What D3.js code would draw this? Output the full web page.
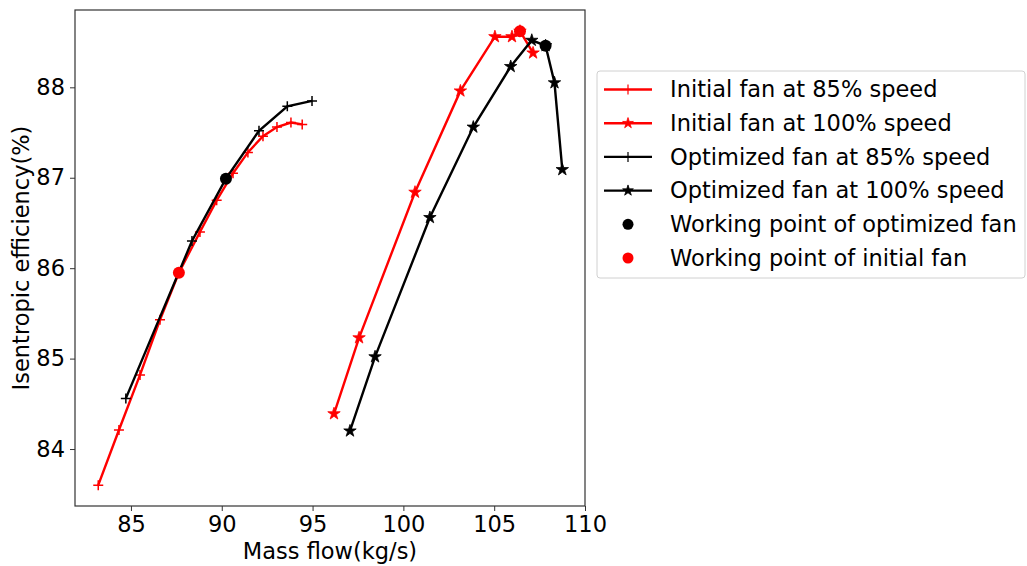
<!DOCTYPE html>
<html>
<head>
<meta charset="utf-8">
<script src="https://cdn.jsdelivr.net/npm/d3@7"></script>
<style>
  body { margin: 0; background: #fff; }
  text { font-family: "DejaVu Sans", sans-serif; fill: #000; }
</style>
</head>
<body>
<svg width="1027" height="566"></svg>
<script>
// values: [mass flow, efficiency]
var initial85 = [[83.20, 83.60], [84.34, 84.21], [85.50, 84.82], [86.60, 85.43], [87.64, 85.95],
                 [88.80, 86.40], [89.72, 86.75], [90.62, 87.05], [91.44, 87.28], [92.27, 87.46],
                 [93.04, 87.56], [93.81, 87.61], [94.43, 87.59]];
var initial100 = [[96.18, 84.39], [97.56, 85.23], [100.64, 86.84], [103.14, 87.96], [105.04, 88.56],
                  [105.98, 88.56], [106.42, 88.62], [107.14, 88.38]];
var optimized85 = [[84.72, 84.56], [88.36, 86.30], [90.23, 86.99], [92.05, 87.52], [93.61, 87.79],
                   [94.97, 87.85]];
var optimized100 = [[97.06, 84.20], [98.44, 85.02], [101.46, 86.56], [103.85, 87.56], [105.91, 88.23],
                    [107.07, 88.52], [107.83, 88.46], [108.32, 88.05], [108.75, 87.09]];
var workOptimized = [[90.23, 86.99], [107.83, 88.46]];
var workInitial = [[87.64, 85.95], [106.42, 88.62]];

var xTicks = [85, 90, 95, 100, 105, 110],
    yTicks = [84, 85, 86, 87, 88];

var series = [
  { name: "Initial fan at 85% speed", data: initial85, color: "red", marker: "plus" },
  { name: "Initial fan at 100% speed", data: initial100, color: "red", marker: "star" },
  { name: "Optimized fan at 85% speed", data: optimized85, color: "black", marker: "plus" },
  { name: "Optimized fan at 100% speed", data: optimized100, color: "black", marker: "star" }
];
var dots = [
  { name: "Working point of optimized fan", data: workOptimized, color: "black" },
  { name: "Working point of initial fan", data: workInitial, color: "red" }
];

var svg = d3.select("svg");
var margin = { left: 75, right: 442, top: 10, bottom: 60 },
    width = 1027 - margin.left - margin.right,
    height = 566 - margin.top - margin.bottom,
    fontSize = "22.5px";

var x = d3.scaleLinear().domain([81.92, 110]).range([margin.left, margin.left + width]);
var y = d3.scaleLinear().domain([83.37, 88.855]).range([margin.top + height, margin.top]);

var line = d3.line().x(function(d) { return x(d[0]); }).y(function(d) { return y(d[1]); });
var star = d3.symbol().type(d3.symbolStar).size(48);
var starLegend = d3.symbol().type(d3.symbolStar).size(36);
var plusPath = "M-5,0H5M0,-5V5";

// axes
svg.append("g")
    .attr("transform", "translate(0," + (margin.top + height) + ")")
    .call(d3.axisBottom(x).tickValues(xTicks).tickFormat(d3.format("d")).tickSize(5).tickPadding(5))
    .call(styleAxis);
svg.append("g")
    .attr("transform", "translate(" + margin.left + ",0)")
    .call(d3.axisLeft(y).tickValues(yTicks).tickFormat(d3.format("d")).tickSize(5).tickPadding(5))
    .call(styleAxis);

function styleAxis(g) {
  g.select(".domain").remove();
  g.selectAll(".tick line").attr("stroke", "#333");
  g.selectAll(".tick text").style("font-size", fontSize).attr("fill", "#000");
}

svg.append("rect")
    .attr("x", margin.left).attr("y", margin.top)
    .attr("width", width).attr("height", height)
    .attr("fill", "none").attr("stroke", "#333").attr("stroke-width", 1.2);

svg.append("text")
    .attr("x", margin.left + width / 2).attr("y", 559)
    .attr("text-anchor", "middle").style("font-size", fontSize)
    .text("Mass flow(kg/s)");
svg.append("text")
    .attr("transform", "translate(29," + (margin.top + height / 2) + ") rotate(-90)")
    .attr("text-anchor", "middle").style("font-size", fontSize)
    .text("Isentropic efficiency(%)");

// curves
series.forEach(function(s) {
  var g = svg.append("g");
  g.append("path").datum(s.data)
      .attr("d", line).attr("fill", "none")
      .attr("stroke", s.color).attr("stroke-width", 2.4);
  g.selectAll(".m").data(s.data).enter().append("path")
      .attr("transform", function(d) { return "translate(" + x(d[0]) + "," + y(d[1]) + ")"; })
      .attr("d", s.marker == "star" ? star : plusPath)
      .attr("fill", s.marker == "star" ? s.color : "none")
      .attr("stroke", s.color).attr("stroke-width", s.marker == "star" ? 0.8 : 1.5);
});

dots.forEach(function(s) {
  svg.append("g").selectAll("circle").data(s.data).enter().append("circle")
      .attr("cx", function(d) { return x(d[0]); })
      .attr("cy", function(d) { return y(d[1]); })
      .attr("r", 6).attr("fill", s.color);
});

// legend
var lg = svg.append("g");
lg.append("rect")
    .attr("x", 597).attr("y", 71).attr("width", 428).attr("height", 207)
    .attr("rx", 3).attr("fill", "#fff").attr("stroke", "#d0d0d0");

var rowY = function(i) { return 89.5 + i * 33.7; };
series.forEach(function(s, i) {
  var yy = rowY(i);
  lg.append("line").attr("x1", 604).attr("x2", 652).attr("y1", yy).attr("y2", yy)
      .attr("stroke", s.color).attr("stroke-width", 2.4);
  lg.append("path").attr("transform", "translate(628," + yy + ")")
      .attr("d", s.marker == "star" ? starLegend : plusPath)
      .attr("fill", s.marker == "star" ? s.color : "none")
      .attr("stroke", s.color).attr("stroke-width", s.marker == "star" ? 0.8 : 1.2);
  lg.append("text").attr("x", 670).attr("y", yy).attr("dy", "0.35em")
      .style("font-size", fontSize).text(s.name);
});
dots.forEach(function(s, i) {
  var yy = rowY(i + 4);
  lg.append("circle").attr("cx", 628).attr("cy", yy).attr("r", 5.5).attr("fill", s.color);
  lg.append("text").attr("x", 670).attr("y", yy).attr("dy", "0.35em")
      .style("font-size", fontSize).text(s.name);
});
</script>
</body>
</html>
